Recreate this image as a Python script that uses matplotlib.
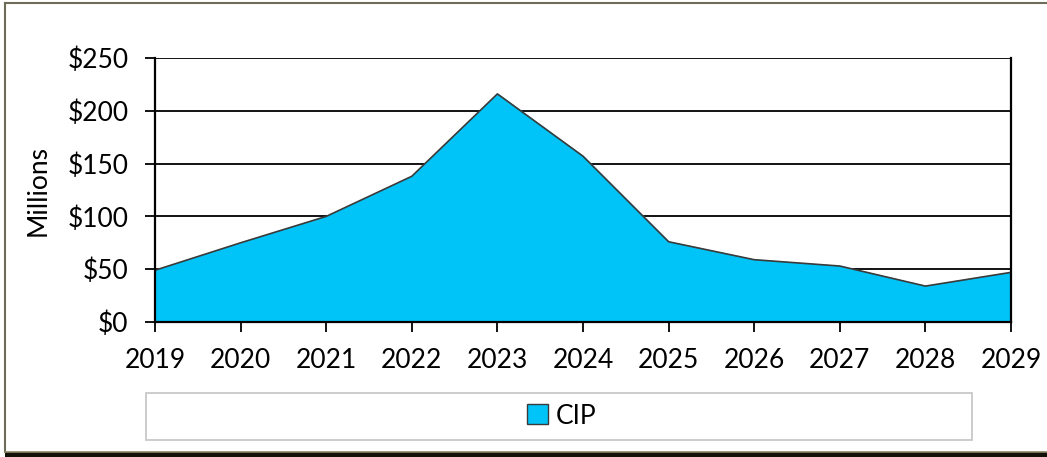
import matplotlib.pyplot as plt
from matplotlib.patches import Rectangle, Patch
from matplotlib.lines import Line2D
from matplotlib.ticker import FuncFormatter

years = [2019, 2020, 2021, 2022, 2023, 2024, 2025, 2026, 2027, 2028, 2029]
cip = [49, 75, 100, 138, 216, 157, 76, 59, 53, 34, 47]
y_ticks = [0, 50, 100, 150, 200, 250]

plt.rcParams['font.family'] = ['Lato', 'DejaVu Sans']

W, H = 1047, 457
fig = plt.figure(figsize=(W / 100, H / 100), dpi=100)
ax = fig.add_axes([155 / W, 1 - 322 / H, (1011 - 155) / W, (322 - 58) / H])

for v in y_ticks[1:]:
    ax.axhline(v, color='black', lw=1.3, zorder=1)

ax.fill_between(years, cip, 0, color='#00C3F7', zorder=2, label='CIP')
ax.plot(years, cip, color='#3a3a3a', lw=1.2, zorder=3)

ax.set_xlim(years[0], years[-1])
ax.set_ylim(0, 250)
ax.set_xticks(years)
ax.set_yticks(y_ticks)
ax.yaxis.set_major_formatter(FuncFormatter(lambda v, p: f'${int(v)}'))
ax.tick_params(axis='both', direction='out', length=7, width=1.3,
               labelsize=19, colors='black')
ax.tick_params(axis='y', pad=12)
ax.tick_params(axis='x', pad=12)
for s in ['left', 'right', 'bottom']:
    ax.spines[s].set_linewidth(1.6)
    ax.spines[s].set_zorder(4)
ax.spines['top'].set_visible(False)
ax.set_ylabel('Millions', fontsize=19, labelpad=12)

# outer frame lines
fig.add_artist(Line2D([5 / W, 1], [1 - 3 / H, 1 - 3 / H], color='#6e6b58', lw=1.5,
                      transform=fig.transFigure))
fig.add_artist(Line2D([5 / W, 5 / W], [1 - 3 / H, 1 - 452 / H], color='#6e6b58', lw=1.5,
                      transform=fig.transFigure))
fig.add_artist(Rectangle((5 / W, 0), 1, 5 / H, transform=fig.transFigure,
                         facecolor='#111108', edgecolor='none'))
fig.add_artist(Line2D([5 / W, 1], [5 / H, 5 / H], color='#8a8466', lw=1.2,
                      transform=fig.transFigure))

# legend box
fig.add_artist(Rectangle((146 / W, 1 - 440 / H), (972 - 146) / W, 47 / H,
                         transform=fig.transFigure, facecolor='white',
                         edgecolor='#c8c8c8', lw=1.3))
h = Patch(facecolor='#00C3F7', edgecolor='#3a3a3a', lw=1.0)
fig.legend([h], ['CIP'], loc='center', bbox_to_anchor=(562 / W, 1 - 416 / H),
           frameon=False, fontsize=19, handlelength=0.8, handleheight=0.8,
           handletextpad=0.3)

fig.savefig('out.png', dpi=100, facecolor='white')
